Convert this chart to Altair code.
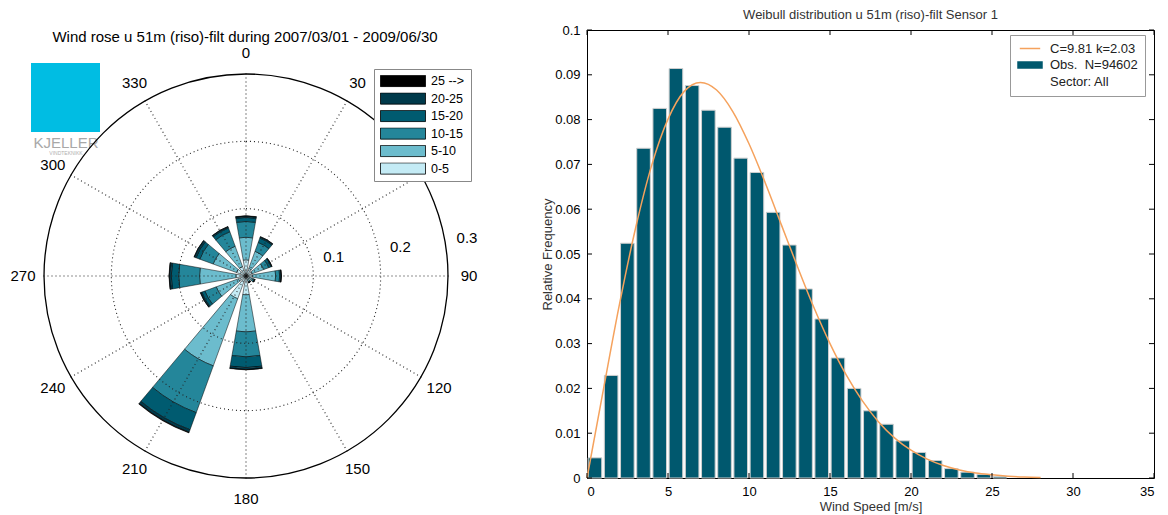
import altair as alt
import pandas as pd

FONT = "Liberation Sans"

# ---------------- Wind rose data (relative frequency per sector and speed bin) ----------------
directions = [0, 30, 60, 90, 120, 150, 180, 210, 240, 270, 300, 330]
speed_bins = ["0-5", "5-10", "10-15", "15-20", "20-25", "25 -->"]
freq_0_5 = [0.024, 0.012, 0.010, 0.010, 0.006, 0.006, 0.028, 0.036, 0.012, 0.015, 0.015, 0.015]
freq_5_10 = [0.0335, 0.027, 0.018, 0.034, 0.005, 0.003, 0.055, 0.106, 0.035, 0.054, 0.037, 0.032]
freq_10_15 = [0.0235, 0.014, 0.008, 0.006, 0.002, 0.001, 0.037, 0.074, 0.018, 0.031, 0.021, 0.023]
freq_15_20 = [0.006, 0.007, 0.004, 0.002, 0.001, 0.0005, 0.016, 0.027, 0.005, 0.011, 0.006, 0.006]
freq_20_25 = [0.002, 0.002, 0.001, 0.0005, 0.0002, 0.0002, 0.003, 0.004, 0.002, 0.003, 0.003, 0.002]
freq_25_up = [0.0005, 0.0002, 0.0002, 0.0002, 0.0001, 0.0001, 0.0005, 0.001, 0.0002, 0.0005, 0.0002, 0.0002]
bin_colors = ["#c4ebf5", "#6cbccd", "#24869a", "#005b70", "#003a4b", "#000000"]

ring_values = [0.1, 0.2]
outer_ring = [0.3]
ring_labels = ["0.1", "0.2", "0.3"]
angle_labels = ["0", "30", "60", "90", "120", "150", "180", "210", "240", "270", "300", "330"]

rose_title = "Wind rose u 51m (riso)-filt during 2007/03/01 - 2009/06/30"

# ---------------- Histogram / Weibull data ----------------
bin_lower = [0, 1, 2, 3, 4, 5, 6, 7, 8, 9, 10, 11, 12, 13, 14, 15, 16, 17, 18, 19, 20, 21, 22, 23, 24, 25]
rel_freq = [0.0045, 0.0229, 0.0524, 0.0736, 0.0825, 0.0914, 0.0876, 0.0821, 0.0783, 0.0714,
            0.0682, 0.0593, 0.0520, 0.0422, 0.0355, 0.0268, 0.0200, 0.0150, 0.0120, 0.0083,
            0.0057, 0.0039, 0.0021, 0.0013, 0.0008, 0.0003]
weib_speed = [0, 1, 2, 3, 4, 5, 6, 7, 8, 9, 10, 11, 12, 13, 14, 15, 16, 17, 18, 19, 20,
              21, 22, 23, 24, 25, 26, 27, 28]
weib_pdf = [0.0, 0.0195, 0.0387, 0.0558, 0.0699, 0.0801, 0.0863, 0.0883, 0.0866, 0.0818,
            0.0746, 0.0659, 0.0565, 0.0471, 0.0381, 0.0300, 0.0230, 0.0172, 0.0125, 0.0089,
            0.0062, 0.0042, 0.0028, 0.0018, 0.0011, 0.0007, 0.0004, 0.0002, 0.0001]
x_ticks = [0, 5, 10, 15, 20, 25, 30, 35]
y_ticks = [0, 0.01, 0.02, 0.03, 0.04, 0.05, 0.06, 0.07, 0.08, 0.09, 0.1]

FIT = "C=9.81 k=2.03"
OBS = "Obs.\u00a0 N=94602"
SECTOR = "Sector: All"
hist_title = "Weibull distribution u 51m (riso)-filt Sensor 1"
TEAL = "#00586e"
ORANGE = "#f5a25d"

# ---------------- Build wind rose table ----------------
per_bin = [freq_0_5, freq_5_10, freq_10_15, freq_15_20, freq_20_25, freq_25_up]
rows = []
for i, d in enumerate(directions):
    cum = 0.0
    for b, name in enumerate(speed_bins):
        v = per_bin[b][i]
        rows.append({"dir": d, "bin": name, "r0": cum, "r1": cum + v, "k": b})
        cum += v
rose_df = pd.DataFrame(rows)

CX, CY = 237, 246
R_PX = 202
theta_scale = alt.Scale(domain=[0, 360], range=[0, 6.283185307179586])
radius_scale = alt.Scale(type="linear", domain=[0, 0.3], range=[0, R_PX], zero=True)

legend_order = list(reversed(speed_bins))
legend_colors = list(reversed(bin_colors))

rose_legend = alt.Legend(
    title=None, orient="none", legendX=365, legendY=39,
    symbolType="M-1,-0.25H1V0.25H-1Z", symbolSize=2025, clipHeight=12,
    symbolStrokeColor="black", symbolStrokeWidth=0.8, symbolOpacity=1,
    labelFont=FONT, labelFontSize=12.5, labelColor="black", labelOffset=5,
    rowPadding=4.5, padding=6, fillColor="white", strokeColor="#888888",
)

bars = alt.Chart(rose_df).transform_calculate(
    t0="datum.dir - 10", t1="datum.dir + 10"
).mark_arc(stroke="black", strokeWidth=0.5).encode(
    x=alt.value(CX), y=alt.value(CY),
    theta=alt.Theta("t0:Q", scale=theta_scale),
    theta2="t1:Q",
    radius=alt.Radius("r1:Q", scale=radius_scale),
    radius2="r0:Q",
    color=alt.Color("bin:N", scale=alt.Scale(domain=legend_order, range=legend_colors), legend=rose_legend),
)

rings_df = pd.DataFrame({"r": ring_values, "a0": 0, "a1": 360, "z": 0.0})
rings = alt.Chart(rings_df).mark_arc(fillOpacity=0, stroke="#222222", strokeWidth=1.1, strokeDash=[1, 3]).encode(
    x=alt.value(CX), y=alt.value(CY),
    theta=alt.Theta("a0:Q", scale=theta_scale), theta2="a1:Q",
    radius=alt.Radius("r:Q", scale=radius_scale), radius2="z:Q",
)

spokes_df = pd.DataFrame({"a": directions, "r": [outer_ring[0]] * len(directions), "z": 0.0})
spokes = alt.Chart(spokes_df).mark_arc(fillOpacity=0, stroke="#222222", strokeWidth=1.1, strokeDash=[1, 3],
                                       radiusOffset=0.5).encode(
    x=alt.value(CX), y=alt.value(CY),
    theta=alt.Theta("a:Q", scale=theta_scale), theta2="a:Q",
    radius=alt.Radius("r:Q", scale=radius_scale), radius2="z:Q",
)

outer_df = pd.DataFrame({"r": outer_ring, "a0": 0, "a1": 360, "z": 0.0})
outer = alt.Chart(outer_df).mark_arc(fillOpacity=0, stroke="black", strokeWidth=1.3).encode(
    x=alt.value(CX), y=alt.value(CY),
    theta=alt.Theta("a0:Q", scale=theta_scale), theta2="a1:Q",
    radius=alt.Radius("r:Q", scale=radius_scale), radius2="z:Q",
)

alabel_df = pd.DataFrame({"a": directions, "lab": angle_labels, "r": [outer_ring[0]] * len(directions)})
alabels = alt.Chart(alabel_df).mark_text(font=FONT, fontSize=15, color="black", radiusOffset=21,
                                         align="center", baseline="middle").encode(
    x=alt.value(CX), y=alt.value(CY),
    theta=alt.Theta("a:Q", scale=theta_scale),
    radius=alt.Radius("r:Q", scale=radius_scale),
    text="lab:N",
)

rlabel_df = pd.DataFrame({"r": ring_values + outer_ring, "lab": ring_labels})
rlabels = alt.Chart(rlabel_df).mark_text(font=FONT, fontSize=15, color="black", dx=21, dy=-10,
                                         align="center", baseline="middle").encode(
    x=alt.value(CX), y=alt.value(CY),
    theta=alt.value(1.431),
    radius=alt.Radius("r:Q", scale=radius_scale),
    text="lab:N",
)

one = pd.DataFrame({"t": [rose_title]})
title_l = alt.Chart(one).mark_text(font=FONT, fontSize=15, color="black", align="center",
                                   baseline="middle").encode(
    x=alt.value(236), y=alt.value(7), text="t:N")

logo_df = pd.DataFrame({"a": ["KJELLER"], "b": ["VINDTEKNIKK"]})
logo_rect = alt.Chart(logo_df).mark_rect(color="#00bde3").encode(
    x=alt.value(22), x2=alt.value(91), y=alt.value(33), y2=alt.value(102))
logo_t1 = alt.Chart(logo_df).mark_text(font=FONT, fontSize=15, color="#a8a8a8", align="center",
                                       baseline="middle").encode(
    x=alt.value(57), y=alt.value(113), text="a:N")
logo_t2 = alt.Chart(logo_df).mark_text(font=FONT, fontSize=5, color="#b0b0b0", align="center",
                                       baseline="middle").encode(
    x=alt.value(57), y=alt.value(123), text="b:N")

left = alt.layer(logo_rect, logo_t1, logo_t2, bars, rings, spokes, outer, alabels, rlabels, title_l).properties(
    width=472, height=470, view=alt.ViewBackground(stroke="transparent")
)

# ---------------- Histogram panel ----------------
hist_df = pd.DataFrame({"lo": bin_lower, "freq": rel_freq, "series": OBS})
weib_df = pd.DataFrame({"v": weib_speed, "f": weib_pdf, "series": FIT})

xscale = alt.Scale(domain=[0, 35], nice=False, zero=True)
yscale = alt.Scale(domain=[0, 0.1], nice=False, zero=True)
color_scale = alt.Scale(domain=[FIT, OBS, SECTOR], range=[ORANGE, TEAL, "#ffffff"])

shape_expr = ("datum.value === '" + FIT + "' ? 'M-0.85,0H0.85' : 'M-1,-0.24H1V0.24H-1Z'")
stroke_expr = ("datum.value === '" + FIT + "' ? '" + ORANGE + "' : 'transparent'")
hist_legend = alt.Legend(
    title=None, orient="none", legendX=423, legendY=5,
    fillColor="white", strokeColor="#999999", padding=7,
    labelFont=FONT, labelFontSize=13, labelColor="#222222",
    symbolSize=576, clipHeight=13, rowPadding=2.5, labelOffset=7,
    symbolType={"expr": shape_expr}, symbolStrokeColor={"expr": stroke_expr},
    symbolStrokeWidth=1.5, symbolOpacity=1,
)

XT = "Wind Speed [m/s]"
YT = "Relative Frequency"
xaxis = alt.Axis(values=x_ticks, ticks=False, domain=False, grid=False, labelPadding=7,
                 labelFont=FONT, labelFontSize=13, labelColor="black", titleFont=FONT,
                 titleFontSize=13, titleFontWeight="normal", titleColor="#333333", titlePadding=2)
yaxis = alt.Axis(values=y_ticks, format="~g", ticks=False, domain=False, grid=False, labelPadding=7,
                 labelFont=FONT, labelFontSize=13, labelColor="black", titleFont=FONT,
                 titleFontSize=13, titleFontWeight="normal", titleColor="#333333", titlePadding=0)

hist = alt.Chart(hist_df).transform_calculate(
    x0="datum.lo + 0.07", x1="datum.lo + 0.91"
).mark_bar(stroke="#cfcfcf", strokeWidth=1).encode(
    x=alt.X("x0:Q", scale=xscale, axis=xaxis, title=XT),
    x2="x1:Q",
    y=alt.Y("freq:Q", scale=yscale, axis=yaxis, title=YT),
    y2=alt.datum(0),
    color=alt.Color("series:N", scale=color_scale, legend=hist_legend),
)

curve = alt.Chart(weib_df).mark_line(strokeWidth=1.5, interpolate="monotone").encode(
    x=alt.X("v:Q", scale=xscale, axis=xaxis, title=XT),
    y=alt.Y("f:Q", scale=yscale, axis=yaxis, title=YT),
    color=alt.Color("series:N", scale=color_scale, legend=hist_legend),
)

HW, HH = 567, 448
yt_df = pd.DataFrame({"t": y_ticks})
xt_df = pd.DataFrame({"t": x_ticks})
yt_left = alt.Chart(yt_df).mark_rule(color="black").encode(
    y=alt.Y("t:Q", scale=yscale, axis=yaxis, title=YT), x=alt.value(0), x2=alt.value(5))
yt_right = alt.Chart(yt_df).mark_rule(color="black").encode(
    y=alt.Y("t:Q", scale=yscale, axis=yaxis, title=YT), x=alt.value(HW - 5), x2=alt.value(HW))
xt_bot = alt.Chart(xt_df).mark_rule(color="black").encode(
    x=alt.X("t:Q", scale=xscale, axis=xaxis, title=XT), y=alt.value(HH - 5), y2=alt.value(HH))
xt_top = alt.Chart(xt_df).mark_rule(color="black").encode(
    x=alt.X("t:Q", scale=xscale, axis=xaxis, title=XT), y=alt.value(0), y2=alt.value(5))

right = alt.layer(hist, curve, yt_left, yt_right, xt_bot, xt_top).properties(
    width=HW, height=HH,
    view=alt.ViewBackground(stroke="black", strokeWidth=1),
    title=alt.TitleParams(hist_title, font=FONT, fontSize=13, fontWeight="normal", color="#333333", offset=2),
)

chart = alt.hconcat(left, right, spacing=59).resolve_scale(
    color="independent"
).resolve_legend(color="independent").properties(padding=0).configure(font=FONT)

chart.save("out.html", embed_options={"renderer": "svg", "actions": False})
